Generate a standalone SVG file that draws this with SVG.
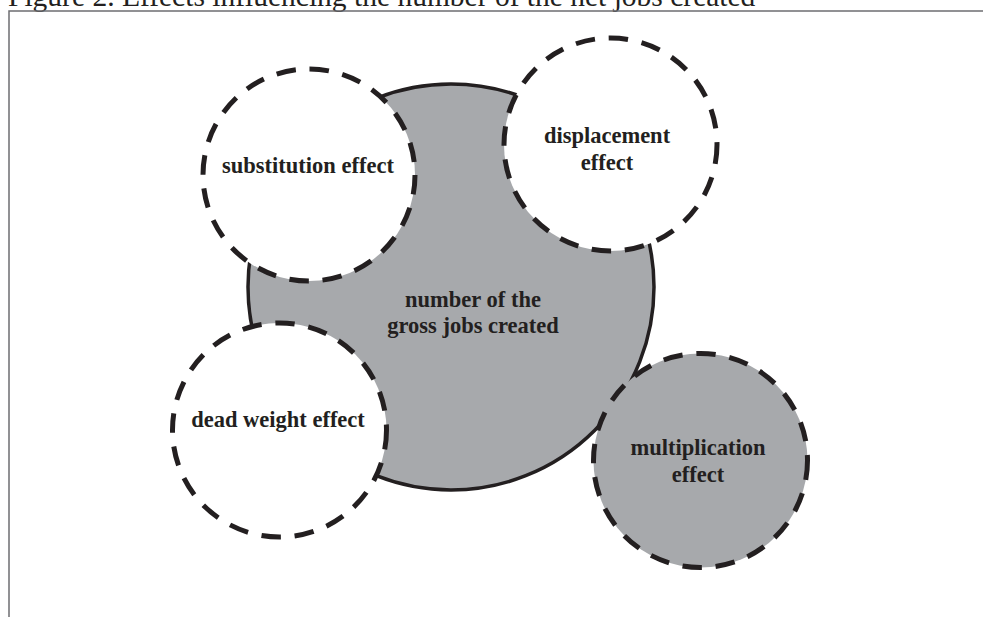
<svg xmlns="http://www.w3.org/2000/svg" width="983" height="617" viewBox="0 0 983 617">
<style>
.frame{fill:none;stroke:#6d6e71;stroke-width:1.5}
.title{font-family:"Liberation Serif","Times New Roman",serif;font-size:29.5px;fill:#231f20}
.big{fill:#a7a9ac;stroke:#231f20;stroke-width:3.5}
.dash{stroke:#231f20;stroke-width:5;stroke-dasharray:19.5 13.8}
.white{fill:#ffffff}
.gray{fill:#a7a9ac}
.lbl{font-family:"Liberation Serif","Times New Roman",serif;font-size:22.5px;font-weight:bold;fill:#231f20;text-anchor:middle}
</style>
<rect width="983" height="617" fill="#ffffff"/>
<text class="title" x="8" y="5.5">Figure 2. Effects influencing the number of the net jobs created</text>
<path class="frame" d="M983 11 H9 V617"/>
<g id="gross-jobs">
<circle class="big" cx="451" cy="287" r="203"/>
<text class="lbl" x="473" y="306.5">number of the</text>
<text class="lbl" x="473" y="332.5">gross jobs created</text>
</g>
<g id="substitution">
<circle class="white dash" cx="309" cy="175" r="106"/>
<text class="lbl" x="308" y="172.5">substitution effect</text>
</g>
<g id="displacement">
<circle class="white dash" cx="610.5" cy="144.5" r="106.5"/>
<text class="lbl" x="607" y="142.5">displacement</text>
<text class="lbl" x="607" y="169.5">effect</text>
</g>
<g id="dead-weight">
<circle class="white dash" cx="279.5" cy="430" r="107"/>
<text class="lbl" x="278" y="426.5">dead weight effect</text>
</g>
<g id="multiplication">
<circle class="gray dash" cx="700.5" cy="460.5" r="107"/>
<text class="lbl" x="698" y="455">multiplication</text>
<text class="lbl" x="698" y="481.5">effect</text>
</g>
<g id="connectors"></g>
</svg>
